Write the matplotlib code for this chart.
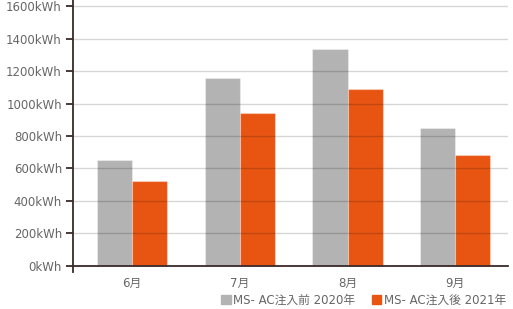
import matplotlib
matplotlib.use("Agg")
import matplotlib.pyplot as plt
from matplotlib.patches import Patch
import numpy as np

plt.rcParams['font.family'] = ['DejaVu Sans', 'Noto Sans CJK JP']

months = ["6月", "7月", "8月", "9月"]
before_2020 = [650, 1160, 1335, 850]
after_2021 = [520, 940, 1090, 680]
yticks = [0, 200, 400, 600, 800, 1000, 1200, 1400, 1600]
series_labels = ["MS- AC注入前 2020年", "MS- AC注入後 2021年"]
colors = ["#b3b3b3", "#e85513"]

fig = plt.figure(figsize=(5.13, 3.09), dpi=100)
ax = fig.add_axes([73/513, 37/309, (508-73)/513, 272/309])

x = np.arange(len(months))
w = 0.326
ax.bar(x - w/2, before_2020, w, color=colors[0], edgecolor=(1, 1, 1, 0.35), linewidth=0.8, zorder=1)
ax.bar(x + w/2, after_2021, w, color=colors[1], edgecolor=(1, 1, 1, 0.35), linewidth=0.8, zorder=1)

ax.set_ylim(-37, 1637)
ax.set_xlim(-0.55, 3.49)
ax.set_yticks(yticks)
ax.set_yticklabels([f"{v}kWh" for v in yticks])
ax.set_xticks(x)
ax.set_xticklabels(months)

for v in yticks[1:]:
    ax.axhline(v, color=(0, 0, 0, 0.16), linewidth=1, zorder=2)

for s in ["top", "right"]:
    ax.spines[s].set_visible(False)
ax.spines["bottom"].set_position(("data", 0))
ax.spines["left"].set_color("#3a2a2a")
ax.spines["bottom"].set_color("#3a2a2a")
ax.spines["left"].set_linewidth(1.3)
ax.spines["bottom"].set_linewidth(1.3)
ax.spines["left"].set_zorder(3)
ax.spines["bottom"].set_zorder(3)

ax.tick_params(axis="y", length=5, width=1.3, color="#3a2a2a", labelsize=8.5, labelcolor="#666666", pad=3)
ax.tick_params(axis="x", length=0, labelsize=8.5, labelcolor="#666666", pad=8)

handles = [Patch(color=colors[0]), Patch(color=colors[1])]
leg = fig.legend(handles, series_labels, loc="lower right", bbox_to_anchor=(1.0, -0.015), ncol=2,
                 frameon=False, fontsize=8.5, handlelength=0.8, handleheight=0.8,
                 handletextpad=0.2, columnspacing=1.4, borderaxespad=0.2)
for t in leg.get_texts():
    t.set_color("#666666")

fig.savefig("out.png", dpi=100)
